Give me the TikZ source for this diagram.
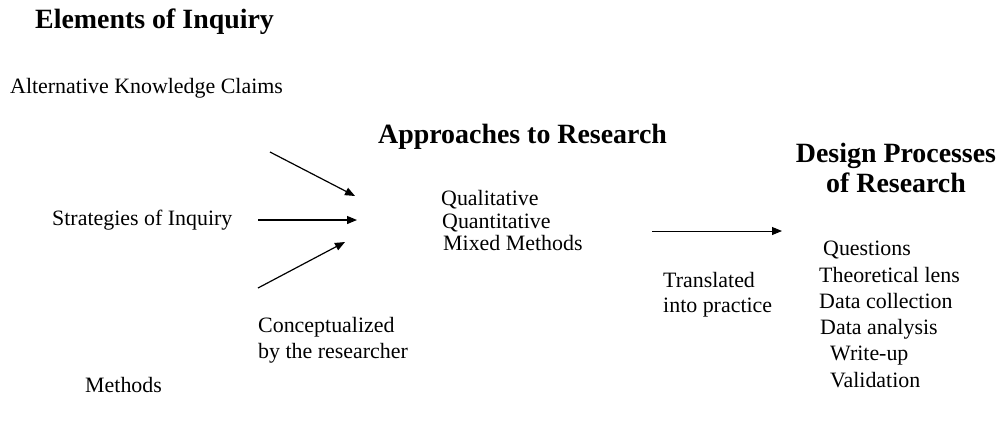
\documentclass[tikz,border=0pt]{standalone}
\usepackage{fontspec}
\setmainfont{Liberation Serif}
\usetikzlibrary{arrows.meta,positioning}

\begin{document}
\begin{tikzpicture}[x=1bp,y=-1bp,
    every node/.style={inner sep=0pt,font=\fontsize{22}{26}\selectfont},
    head/.style={font=\fontsize{28}{32}\selectfont\bfseries},
    flow/.style={-{Triangle[length=10bp,width=8bp]},line width=1.2bp}]
    \useasboundingbox (0,0) rectangle (1004,421);

    % Headings
    \node[head,anchor=base west] (elements) at (35,28) {Elements of Inquiry};
    \node[head,anchor=base west] (approaches) at (378,143) {Approaches to Research};
    \node[head,anchor=base] (design) at (896,162) {Design Processes};
    \node[head,anchor=base] (designb) at (896,192) {of Research};

    % Elements
    \node[anchor=base west] (claims) at (10,93) {Alternative Knowledge Claims};
    \node[anchor=base west] (strategies) at (52,225) {Strategies of Inquiry};
    \node[anchor=base west] (methods) at (85,392) {Methods};
    \node[anchor=base west] (concept) at (258,332) {Conceptualized};
    \node[anchor=base west] (conceptb) at (258,358) {by the researcher};

    % Approaches
    \foreach \name/\x/\y/\txt in {qual/441/205/Qualitative, quan/442/228/Quantitative,
        mixed/443/250/Mixed Methods}
        \node[anchor=base west] (\name) at (\x,\y) {\txt};

    \node[anchor=base west] (transl) at (663,287) {Translated};
    \node[anchor=base west] (translb) at (663,312) {into practice};

    % Design processes
    \foreach \name/\x/\y/\txt in {quest/823/255/Questions, lens/819/282/Theoretical lens,
        collect/819/308/Data collection, analysis/820/334/Data analysis,
        write/830/360/Write-up, valid/830/387/Validation}
        \node[anchor=base west] (\name) at (\x,\y) {\txt};

    % Arrows
    \coordinate (k1) at (270,152); \coordinate (k2) at (355,196);
    \coordinate (s1) at (258,220); \coordinate (s2) at (357,220);
    \coordinate (c1) at (258,288); \coordinate (c2) at (345,242);
    \coordinate (t1) at (652,231); \coordinate (t2) at (782,231);
    \draw[flow] (k1) -- (k2);
    \draw[flow] (s1) -- (s2);
    \draw[flow] (c1) -- (c2);
    \draw[flow,line width=0.9bp] (t1) -- (t2);
\end{tikzpicture}
\end{document}
